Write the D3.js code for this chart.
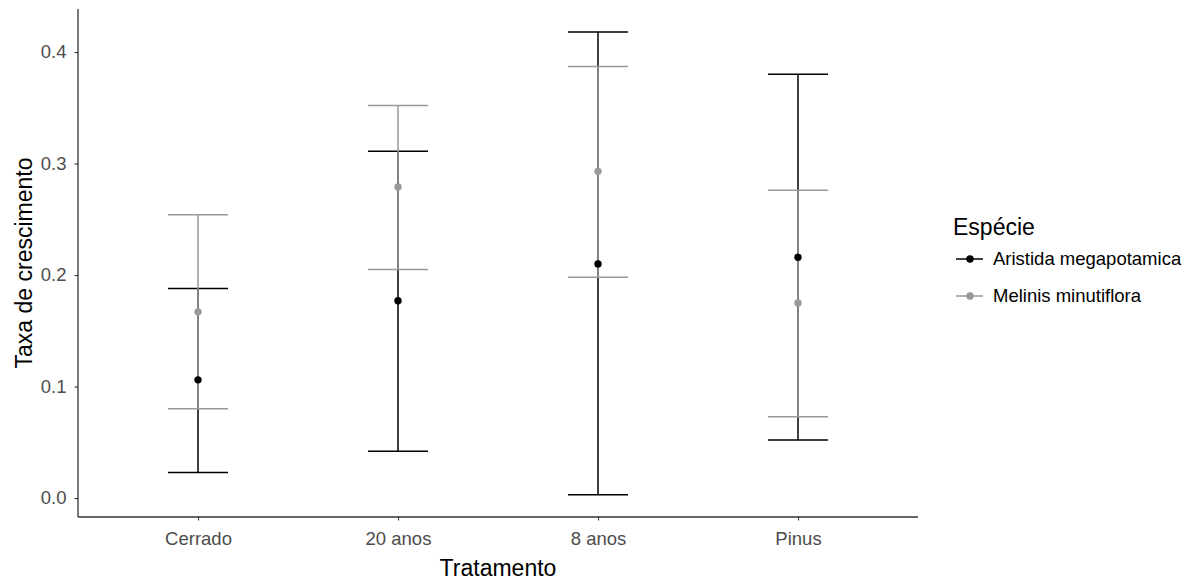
<!DOCTYPE html>
<html>
<head>
<meta charset="utf-8">
<script src="https://cdn.jsdelivr.net/npm/d3@7"></script>
<style>
  body { margin: 0; background: #fff; }
  svg { font-family: "Liberation Sans", Arial, sans-serif; }
</style>
</head>
<body>
<div id="chart"></div>
<script>
// categories and series
var tratamentos = ['Cerrado', '20 anos', '8 anos', 'Pinus']
var especies = ['Aristida megapotamica', 'Melinis minutiflora']
var yTicks = [0.0, 0.1, 0.2, 0.3, 0.4]

// means and error bar limits
var aristidaMean = [0.106, 0.177, 0.210, 0.216]
var aristidaLow  = [0.023, 0.042, 0.003, 0.052]
var aristidaHigh = [0.188, 0.311, 0.418, 0.380]

var melinisMean = [0.167, 0.279, 0.293, 0.175]
var melinisLow  = [0.080, 0.205, 0.198, 0.073]
var melinisHigh = [0.254, 0.352, 0.387, 0.276]

var colors = ['#000000', '#999999']

var series = [
    {name: especies[0], mean: aristidaMean, low: aristidaLow, high: aristidaHigh},
    {name: especies[1], mean: melinisMean, low: melinisLow, high: melinisHigh}
]

var margin = {top: 9, right: 282, bottom: 64, left: 78}
var width = 1200 - margin.left - margin.right
var height = 581 - margin.top - margin.bottom

var svg = d3.select('#chart')
    .append('svg')
    .attr('width', 1200)
    .attr('height', 581)

var g = svg.append('g')
    .attr('transform', `translate(${margin.left}, ${margin.top})`)

var x = d3.scalePoint()
    .domain(tratamentos)
    .range([0, width])
    .padding(0.6)

var y = d3.scaleLinear()
    .domain([-0.017, 0.4386])
    .range([height, 0])

var capHalf = 30

// error bars first, then points
series.forEach((s, si) => {
    var bars = g.append('g').attr('stroke', colors[si]).attr('stroke-width', 1.5)
    tratamentos.forEach((t, i) => {
        var cx = x(t)
        bars.append('line')
            .attr('x1', cx).attr('x2', cx)
            .attr('y1', y(s.low[i])).attr('y2', y(s.high[i]))
        bars.append('line')
            .attr('x1', cx - capHalf).attr('x2', cx + capHalf)
            .attr('y1', y(s.low[i])).attr('y2', y(s.low[i]))
        bars.append('line')
            .attr('x1', cx - capHalf).attr('x2', cx + capHalf)
            .attr('y1', y(s.high[i])).attr('y2', y(s.high[i]))
    })
})

series.forEach((s, si) => {
    g.append('g')
        .selectAll('circle')
        .data(tratamentos)
        .enter().append('circle')
        .attr('cx', d => x(d))
        .attr('cy', (d, i) => y(s.mean[i]))
        .attr('r', 3.7)
        .attr('fill', colors[si])
})

// axes
var yAxis = g.append('g')
    .call(d3.axisLeft(y).tickValues(yTicks).tickFormat(d3.format('.1f')).tickSize(3.5).tickPadding(8))
var xAxis = g.append('g')
    .attr('transform', `translate(0, ${height})`)
    .call(d3.axisBottom(x).tickSize(3.5).tickPadding(11))

;[yAxis, xAxis].forEach(ax => {
    ax.select('.domain').attr('stroke', '#333').attr('stroke-width', 1.3)
        .attr('d', ax === yAxis ? `M0,0V${height}` : `M0,0H${width}`)
    ax.selectAll('.tick line').attr('stroke', '#333').attr('stroke-width', 1.1)
    ax.selectAll('.tick text').attr('fill', '#4d4d4d').attr('font-size', 18.5)
        .attr('font-family', '"Liberation Sans", Arial, sans-serif')
})

// axis titles
svg.append('text')
    .attr('x', margin.left + width / 2)
    .attr('y', 576)
    .attr('text-anchor', 'middle')
    .attr('font-size', 23)
    .text('Tratamento')

svg.append('text')
    .attr('transform', `translate(32, ${margin.top + height / 2}) rotate(-90)`)
    .attr('text-anchor', 'middle')
    .attr('font-size', 23)
    .text('Taxa de crescimento')

// legend
var legend = svg.append('g')
    .attr('transform', 'translate(953, 0)')

legend.append('text')
    .attr('x', 0)
    .attr('y', 235)
    .attr('font-size', 23)
    .text('Espécie')

var items = legend.selectAll('g.item')
    .data(series)
    .enter().append('g')
    .attr('class', 'item')
    .attr('transform', (d, i) => `translate(0, ${259 + i * 37})`)

items.append('line')
    .attr('x1', 3).attr('x2', 30)
    .attr('stroke', (d, i) => colors[i])
    .attr('stroke-width', 1.5)

items.append('circle')
    .attr('cx', 17)
    .attr('r', 3.7)
    .attr('fill', (d, i) => colors[i])

items.append('text')
    .attr('x', 40)
    .attr('dy', '0.35em')
    .attr('font-size', 18.5)
    .attr('fill', '#000')
    .text(d => d.name)
</script>
</body>
</html>
